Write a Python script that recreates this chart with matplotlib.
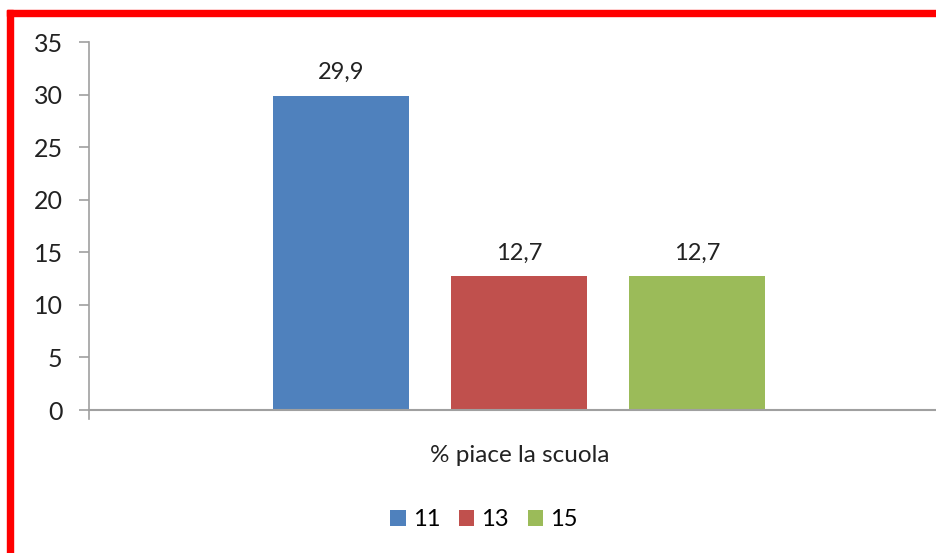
import numpy as np
import matplotlib
matplotlib.use("Agg")
import matplotlib.pyplot as plt
from matplotlib.patches import Rectangle

# data
category = "% piace la scuola"
series = ["11", "13", "15"]
values = [29.9, 12.7, 12.7]
colors = ["#4f81bd", "#c0504d", "#9bbb59"]
yticks = [0, 5, 10, 15, 20, 25, 30, 35]

plt.rcParams['font.family'] = ['Lato', 'DejaVu Sans']

W, H = 937, 553
fig = plt.figure(figsize=(W / 100, H / 100), dpi=100)

# axes placed in pixel terms
left, right, top, bottom = 89, 937, 42, 410
ax = fig.add_axes([left / W, (H - bottom) / H, (right - left) / W, (bottom - top) / H])

offsets = np.arange(len(series)) - 1
bars = []
for off, v, c, s in zip(offsets, values, colors, series):
    b = ax.bar(off, v, width=0.764, color=c, label=s)
    bars.append(b)
    ax.text(off, v + 1.2, f"{v:.1f}".replace(".", ","), ha="center", va="bottom",
            fontsize=17, color="#222222")

ax.set_xlim(-2.416, 2.348)
ax.set_ylim(0, 35)
ax.set_yticks(yticks)
ax.set_yticklabels([str(t) for t in yticks], fontsize=18, color="#222222")
ax.set_xticks([])

gray = "#a0a0a0"
for side in ["top", "right"]:
    ax.spines[side].set_visible(False)
ax.spines["left"].set_color(gray)
ax.spines["bottom"].set_color(gray)
ax.spines["bottom"].set_linewidth(1.5)
ax.spines["left"].set_linewidth(1.2)
ax.tick_params(axis="y", length=7, color=gray, width=1.2, pad=12)

# small category boundary tick below axis at left end
ax.plot([-2.416, -2.416], [0, -0.9], color=gray, lw=1.2, clip_on=False)

fig.text(520 / W, 1 - 455 / H, category, ha="center", va="center",
         fontsize=17.5, color="#222222")

leg = fig.legend(handles=[b[0] for b in bars], labels=series, loc="center",
                 bbox_to_anchor=(484 / W, 1 - 520 / H), ncol=3, frameon=False,
                 fontsize=17, handlelength=0.65, handleheight=0.65,
                 handletextpad=0.3, columnspacing=0.8)

# red frame on the left and top
fig.patches.append(Rectangle((7 / W, 0), 6 / W, 1 - 10 / H, transform=fig.transFigure,
                             color="#ff0000", zorder=10))
fig.patches.append(Rectangle((7 / W, 1 - 16 / H), 1 - 7 / W, 6 / H, transform=fig.transFigure,
                             color="#ff0000", zorder=10))

fig.savefig("out.png", dpi=100)
